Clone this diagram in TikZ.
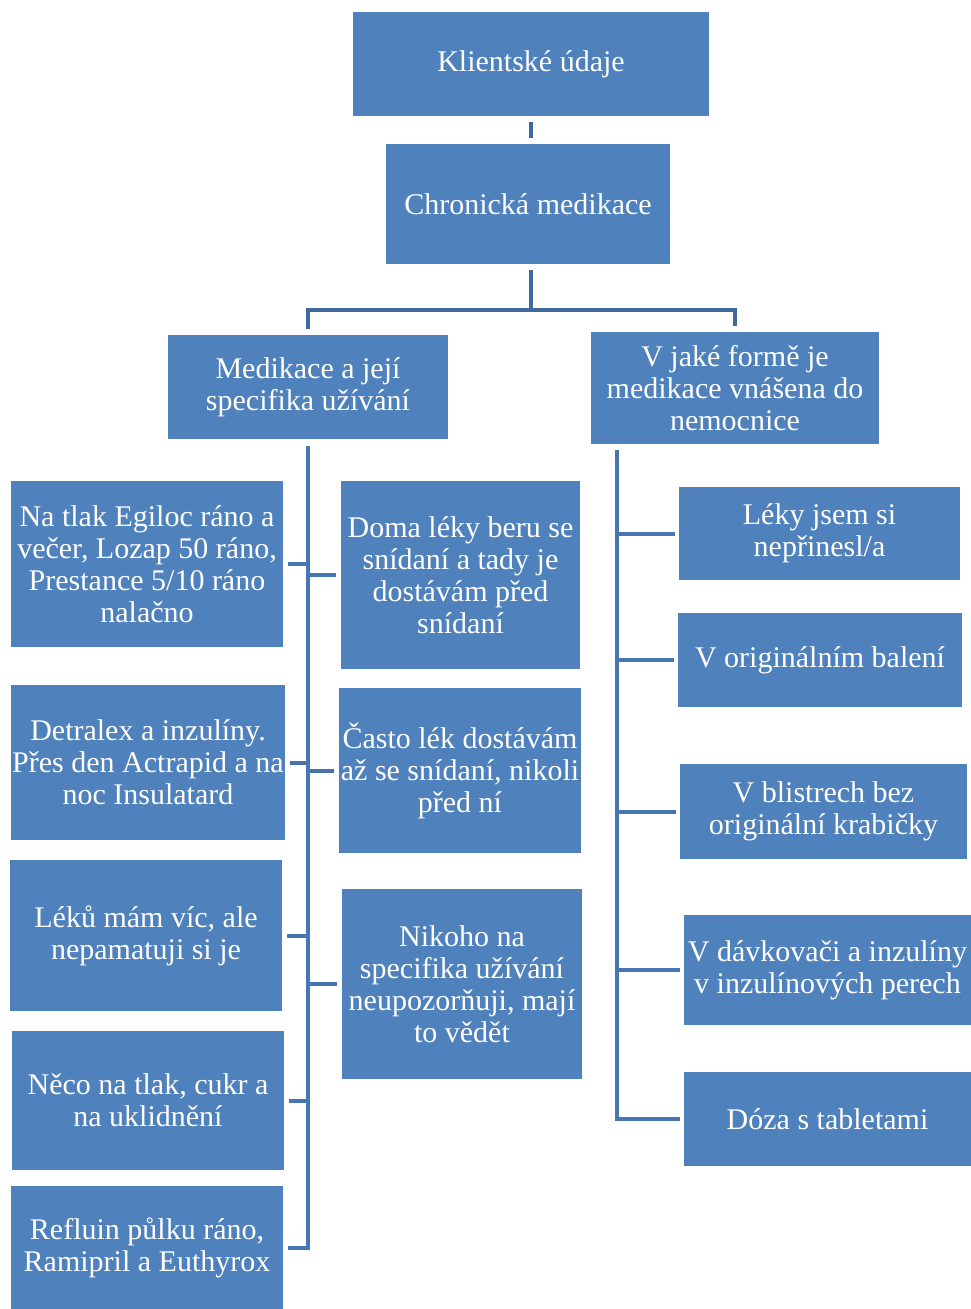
\documentclass[tikz,border=0pt]{standalone}
\usepackage{fontspec}
\setmainfont{Liberation Serif}
\definecolor{boxblue}{HTML}{4F81BD}
\definecolor{lineblue}{HTML}{4676B2}
\definecolor{topline}{HTML}{3F6A9E}
\tikzset{
  box/.style={fill=boxblue, draw=none, text=white, inner sep=0pt, align=center,
    font=\fontsize{30}{32}\selectfont},
  conn/.style={draw=lineblue, line width=4pt},
  topconn/.style={draw=topline, line width=4pt},
}
\begin{document}
\begin{tikzpicture}[x=1pt,y=-1pt]
\useasboundingbox (0,0) rectangle (971,1309);
\node[box, minimum width=356pt, minimum height=104pt] (top) at (531,64) {Klientské údaje};
\node[box, minimum width=284pt, minimum height=120pt] (chron) at (528,204) {Chronická medikace};
\node[box, minimum width=280pt, minimum height=104pt] (L) at (308,387) {Medikace a její\\specifika užívání};
\node[box, minimum width=288pt, minimum height=112pt] (R) at (735,388) {V jaké formě je\\medikace vnášena do\\nemocnice};
% left column
\node[box, minimum width=272pt, minimum height=166pt] (a1) at (147,564) {Na tlak Egiloc ráno a\\večer, Lozap 50 ráno,\\Prestance 5/10 ráno\\nalačno};
\node[box, minimum width=274pt, minimum height=155pt] (a2) at (148,762.5) {Detralex a inzulíny.\\Přes den Actrapid a na\\noc Insulatard};
\node[box, minimum width=272pt, minimum height=151pt] (a3) at (146,935.5) {Léků mám víc, ale\\nepamatuji si je};
\node[box, minimum width=272pt, minimum height=139pt] (a4) at (148,1100.5) {Něco na tlak, cukr a\\na uklidnění};
\node[box, minimum width=272pt, minimum height=123pt] (a5) at (147,1247.5) {Refluin půlku ráno,\\Ramipril a Euthyrox};
% middle column
\node[box, minimum width=239pt, minimum height=188pt] (b1) at (460.5,575) {Doma léky beru se\\snídaní a tady je\\dostávám před\\snídaní};
\node[box, minimum width=242pt, minimum height=165pt] (b2) at (460,770.5) {Často lék dostávám\\až se snídaní, nikoli\\před ní};
\node[box, minimum width=240pt, minimum height=190pt] (b3) at (462,984) {Nikoho na\\specifika užívání\\neupozorňuji, mají\\to vědět};
% right column
\node[box, minimum width=281pt, minimum height=93pt] (r1) at (819.5,533.5) {Léky jsem si\\nepřinesl/a};
\node[box, minimum width=284pt, minimum height=94pt] (r2) at (820,660) {V originálním balení};
\node[box, minimum width=287pt, minimum height=95pt] (r3) at (823.5,811.5) {V blistrech bez\\originální krabičky};
\node[box, minimum width=287pt, minimum height=110pt] (r4) at (827.5,970) {V dávkovači a inzulíny\\v inzulínových perech};
\node[box, minimum width=287pt, minimum height=94pt] (r5) at (827.5,1119) {Dóza s tabletami};
% connectors
\coordinate (hub) at (531,310);
\coordinate (rt) at (617,450);
\draw[topconn, shorten <=6pt, shorten >=6pt] (top.south) -- (top.south |- chron.north);
\draw[topconn, shorten <=6pt] (hub |- chron.south) -- (hub);
\draw[topconn, shorten <=6pt, shorten >=6pt] (L.north) |- (hub) -| (R.north);
% left trunk
\draw[conn, shorten <=7pt, shorten >=5pt] (L.south) |- (a5.east);
\foreach \n in {a1,a2,a3,a4}{
  \draw[conn, shorten >=5pt] (L.south |- \n.east) -- (\n.east);
}
\foreach \n in {b1,b2,b3}{
  \draw[conn, shorten >=5pt] (L.south |- \n.west) -- (\n.west);
}
% right trunk
\draw[conn, shorten >=4pt] (rt) |- (r5.west);
\foreach \n in {r1,r2,r3,r4}{
  \draw[conn, shorten >=4pt] (rt |- \n.west) -- (\n.west);
}
\end{tikzpicture}
\end{document}
